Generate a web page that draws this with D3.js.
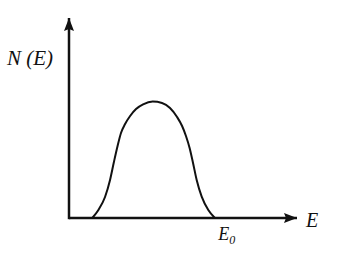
<!DOCTYPE html>
<html>
<head>
<meta charset="utf-8">
<script src="https://cdn.jsdelivr.net/npm/d3@7"></script>
<style>
  body { margin: 0; background: #fff; }
</style>
</head>
<body>
<div class="chart"></div>
<script>
// energy values (arbitrary units) and N(E)
const energy = [10.2, 12.9, 15.8, 18.0, 19.7, 21.3, 22.8, 24.6, 26.8, 29.4, 32.5, 36.7,
                40.8, 44.3, 47.4, 49.6, 51.3, 52.9, 54.4, 56.0, 58.2, 61.1, 64.0]
const counts = [0, 4, 10.5, 19, 28, 36, 42.5, 47, 51, 54.5, 56.8, 58.2,
                57.5, 55, 50.5, 46, 41, 35, 27.5, 19, 10.7, 4, 0]
const xTickValues = [65.5]
const xTickLabels = ['E']
const xTickSubs = ['0']
const xLabel = 'E'
const yLabel = 'N (E)'

const w = 338, h = 267
const serif = '"Liberation Serif", "Times New Roman", "DejaVu Serif", serif'

const svg = d3.select('.chart')
    .append('svg')
    .attr('width', w)
    .attr('height', h)

// 比例尺
const x = d3.scaleLinear().domain([0, 100]).range([69, 297])
const y = d3.scaleLinear().domain([0, 100]).range([218, 18])

// arrow head
svg.append('defs').append('marker')
    .attr('id', 'arrow')
    .attr('viewBox', '0 0 13 10')
    .attr('refX', 13)
    .attr('refY', 5)
    .attr('markerWidth', 13)
    .attr('markerHeight', 10)
    .attr('markerUnits', 'userSpaceOnUse')
    .attr('orient', 'auto')
    .append('path')
    .attr('d', 'M0,0 L13,5 L0,10 L2,5 Z')
    .attr('fill', '#111')

// axes
svg.append('line')
    .attr('x1', x(0)).attr('y1', y(0))
    .attr('x2', x(100)).attr('y2', y(0))
    .attr('stroke', '#111')
    .attr('stroke-width', 2.5)
    .attr('marker-end', 'url(#arrow)')

svg.append('line')
    .attr('x1', x(0)).attr('y1', y(0) + 1.2)
    .attr('x2', x(0)).attr('y2', y(100))
    .attr('stroke', '#111')
    .attr('stroke-width', 2.5)
    .attr('marker-end', 'url(#arrow)')

// curve
const line = d3.line()
    .x((d, i) => x(energy[i]))
    .y(d => y(d))
    .curve(d3.curveMonotoneX)

svg.append('path')
    .datum(counts)
    .attr('d', line)
    .attr('fill', 'none')
    .attr('stroke', '#111')
    .attr('stroke-width', 2)

// tick label E0
const tick = svg.selectAll('text.tick')
    .data(xTickValues)
    .enter()
    .append('text')
    .attr('class', 'tick')
    .attr('x', d => x(d))
    .attr('y', y(0) + 22)
    .attr('font-family', serif)
    .attr('font-style', 'italic')
    .attr('fill', '#111')
    .attr('font-size', '18px')

tick.append('tspan').text((d, i) => xTickLabels[i])
tick.append('tspan')
    .attr('font-size', '12px')
    .attr('dy', 4)
    .text((d, i) => xTickSubs[i])

// axis titles
svg.append('text')
    .attr('x', x(100) + 9)
    .attr('y', y(0) + 9)
    .attr('font-family', serif)
    .attr('font-style', 'italic')
    .attr('fill', '#111')
    .attr('font-size', '20px')
    .text(xLabel)

svg.append('text')
    .attr('x', 7)
    .attr('y', 65)
    .attr('font-family', serif)
    .attr('font-style', 'italic')
    .attr('fill', '#111')
    .attr('font-size', '21px')
    .text(yLabel)
</script>
</body>
</html>
